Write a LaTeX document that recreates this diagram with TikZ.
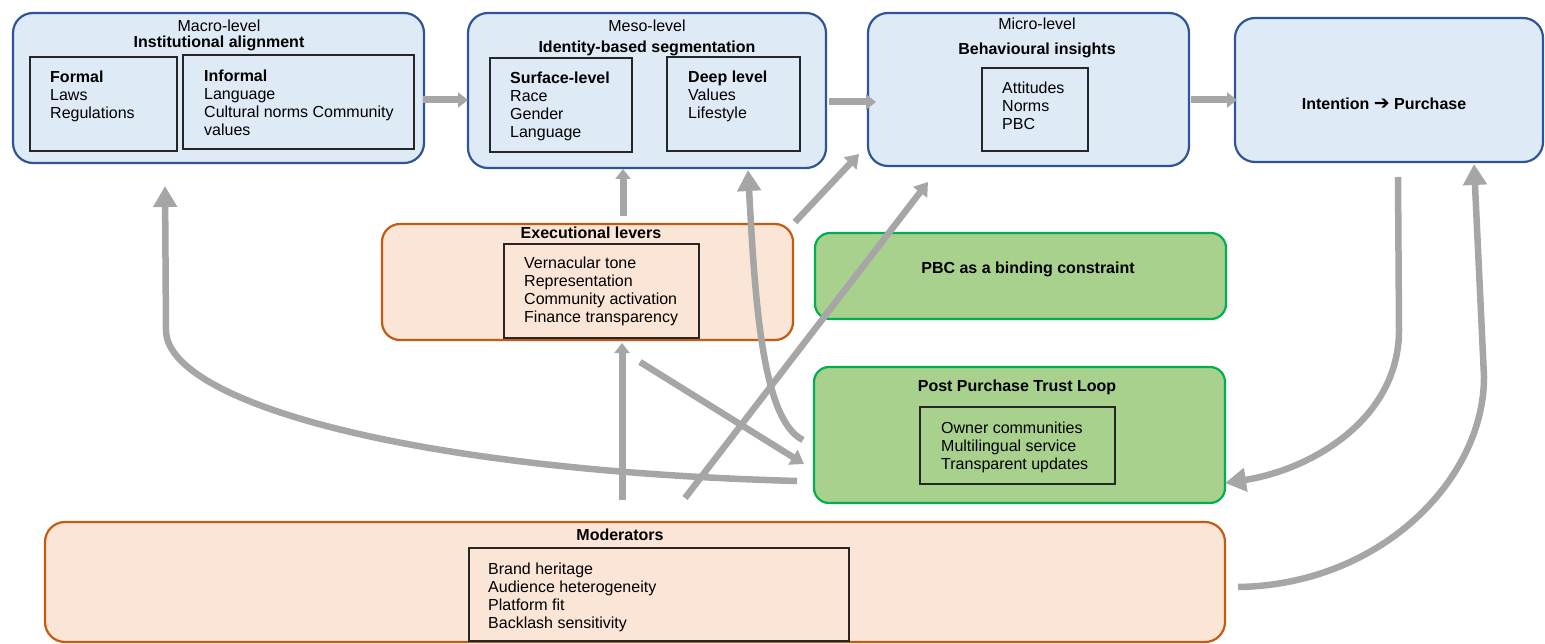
\documentclass[tikz,border=0pt]{standalone}
\usepackage{fontspec}
\setmainfont{Liberation Sans}
\newfontfamily\dejavu{DejaVu Sans}
\usetikzlibrary{arrows.meta}
\definecolor{bluebd}{HTML}{2F5597}
\definecolor{bluefill}{HTML}{DEEBF7}
\definecolor{orbd}{HTML}{C55A11}
\definecolor{orfill}{HTML}{FBE5D6}
\definecolor{grbd}{HTML}{00B050}
\definecolor{grfill}{HTML}{A9D18E}
\definecolor{conn}{HTML}{A6A6A6}
\begin{document}
\begin{tikzpicture}[x=1pt,y=-1pt,
  font=\fontsize{16}{18}\selectfont,
  bluebox/.style={draw=bluebd, fill=bluefill, line width=2.2pt, rounded corners=20pt, inner sep=0pt},
  orbox/.style={draw=orbd, fill=orfill, line width=2.2pt, rounded corners=18pt, inner sep=0pt},
  grbox/.style={draw=grbd, fill=grfill, line width=2.2pt, rounded corners=15pt, inner sep=0pt},
  inbox/.style={draw=black!85, line width=1.1pt, inner sep=0pt},
  lbl/.style={inner sep=0pt, anchor=base},
  lst/.style={inner sep=0pt, anchor=north west, align=left},
  arr/.style={draw=conn, line width=7pt, -{Triangle[width=15pt,length=10pt]}},
  bigarr/.style={draw=conn, line width=6.5pt, -{Triangle[width=23pt,length=21pt]}},
  midarr/.style={draw=conn, line width=6.5pt, -{Triangle[width=17pt,length=13pt]}}
]
\useasboundingbox (0,0) rectangle (1545,644);

% ---- boxes ----
\node[bluebox, minimum width=411pt, minimum height=150pt] (macro) at (218.5,88) {};
\node[inbox, minimum width=147pt, minimum height=94pt] (formalbox) at (103.5,104) {};
\node[inbox, minimum width=231pt, minimum height=94pt] (informalbox) at (298.5,102) {};
\node[lbl] (macrot) at (219,31.8) {Macro-level};
\node[lbl] (macrob) at (219,47.8) {\textbf{Institutional alignment}};
\node[lst] (formalt) at (50,70.7) {\rule{0pt}{12pt}\textbf{Formal}\\Laws\\Regulations};
\node[lst] (informalt) at (204,69.7) {\rule{0pt}{12pt}\textbf{Informal}\\Language\\Cultural norms Community\\values};

\node[bluebox, minimum width=358pt, minimum height=155pt] (meso) at (647,90.5) {};
\node[inbox, minimum width=142pt, minimum height=94pt] (surfbox) at (561,105) {};
\node[inbox, minimum width=133pt, minimum height=94pt] (deepbox) at (733.5,104) {};
\node[lbl] (mesot) at (647,31.8) {Meso-level};
\node[lbl] (mesob) at (647,52.8) {\textbf{Identity-based segmentation}};
\node[lst] (surft) at (510,71.7) {\rule{0pt}{12pt}\textbf{Surface-level}\\Race\\Gender\\Language};
\node[lst] (deept) at (688,70.7) {\rule{0pt}{12pt}\textbf{Deep level}\\Values\\Lifestyle};

\node[bluebox, minimum width=321pt, minimum height=153pt] (micro) at (1028.5,89.5) {};
\node[inbox, minimum width=106pt, minimum height=83pt] (attbox) at (1035,109.5) {};
\node[lbl] (microt) at (1037,29.8) {Micro-level};
\node[lbl] (microb) at (1037,54.8) {\textbf{Behavioural insights}};
\node[lst] (attt) at (1002,81.7) {\rule{0pt}{12pt}Attitudes\\Norms\\PBC};

\node[bluebox, minimum width=308pt, minimum height=144pt] (intent) at (1389,90) {};
\node[lbl] (intentt) at (1384,109.8) {\textbf{Intention {\dejavu\bfseries\fontsize{19}{18}\selectfont ➔} Purchase}};

\node[orbox, minimum width=411pt, minimum height=116pt] (exec) at (587.5,282) {};
\node[inbox, minimum width=195pt, minimum height=94pt] (execin) at (601.5,291) {};
\node[lbl] (exect) at (591,238.8) {\textbf{Executional levers}};
\node[lst] (execl) at (524,256.7) {\rule{0pt}{12pt}Vernacular tone\\Representation\\Community activation\\Finance transparency};

\node[grbox, minimum width=411pt, minimum height=86pt] (pbc) at (1020.5,276) {};
\node[lbl] (pbct) at (1028,273.8) {\textbf{PBC as a binding constraint}};

\node[grbox, minimum width=411pt, minimum height=136pt] (post) at (1019.5,435) {};
\node[inbox, minimum width=195pt, minimum height=77pt] (postin) at (1017.5,445.5) {};
\node[lbl] (postt) at (1017,391.8) {\textbf{Post Purchase Trust Loop}};
\node[lst] (postl) at (941,421.7) {\rule{0pt}{12pt}Owner communities\\Multilingual service\\Transparent updates};

\node[orbox, rounded corners=20pt, minimum width=1180pt, minimum height=120pt] (mod) at (635,582) {};
\node[inbox, minimum width=380pt, minimum height=93pt] (modin) at (659,594.5) {};
\node[lbl] (modt) at (620,540.8) {\textbf{Moderators}};
\node[lst] (modl) at (488,562.7) {\rule{0pt}{12pt}Brand heritage\\Audience heterogeneity\\Platform fit\\Backlash sensitivity};

% ---- connector end points ----
\coordinate (c1s) at (423,100);  \coordinate (c1e) at (468,100);
\coordinate (c2s) at (829,102);  \coordinate (c2e) at (876,102);
\coordinate (c3s) at (1191,100); \coordinate (c3e) at (1237,100);
\coordinate (c4s) at (623,216);  \coordinate (c4e) at (623,169);
\coordinate (c5s) at (803,440);  \coordinate (c5e) at (748,170);
\coordinate (c6s) at (795,222);  \coordinate (c6e) at (859,154);
\coordinate (c7s) at (685,498);  \coordinate (c7e) at (928,182);
\coordinate (c8s) at (640,362);  \coordinate (c8e) at (804,464);
\coordinate (c9s) at (622,500);  \coordinate (c9e) at (622,343);
\coordinate (c10s) at (797,481); \coordinate (c10e) at (165,186);
\coordinate (c11s) at (1398,177); \coordinate (c11e) at (1225,483);
\coordinate (c12s) at (1238,587); \coordinate (c12e) at (1474,164);

% ---- connectors ----
\draw[arr] (c1s) -- (c1e);
\draw[arr] (c2s) -- (c2e);
\draw[arr] (c3s) -- (c3e);
\draw[arr] (c4s) -- (c4e);
\draw[midarr] (c6s) -- (c6e);
\draw[midarr] (c8s) -- (c8e);
\draw[arr] (c9s) -- (c9e);
\draw[bigarr] (c10s) .. controls (400,470) and (166,400) .. (166,330) -- (c10e);
\draw[bigarr] (c5s) .. controls (762,420) and (755,300) .. (c5e);
\draw[midarr] (c7s) -- (c7e);
\draw[bigarr] (c11s) -- (1399,330) .. controls (1399,420) and (1310,470) .. (c11e);
\draw[bigarr] (c12s) .. controls (1380,585) and (1484,480) .. (1484,377) -- (c12e);
\end{tikzpicture}
\end{document}
